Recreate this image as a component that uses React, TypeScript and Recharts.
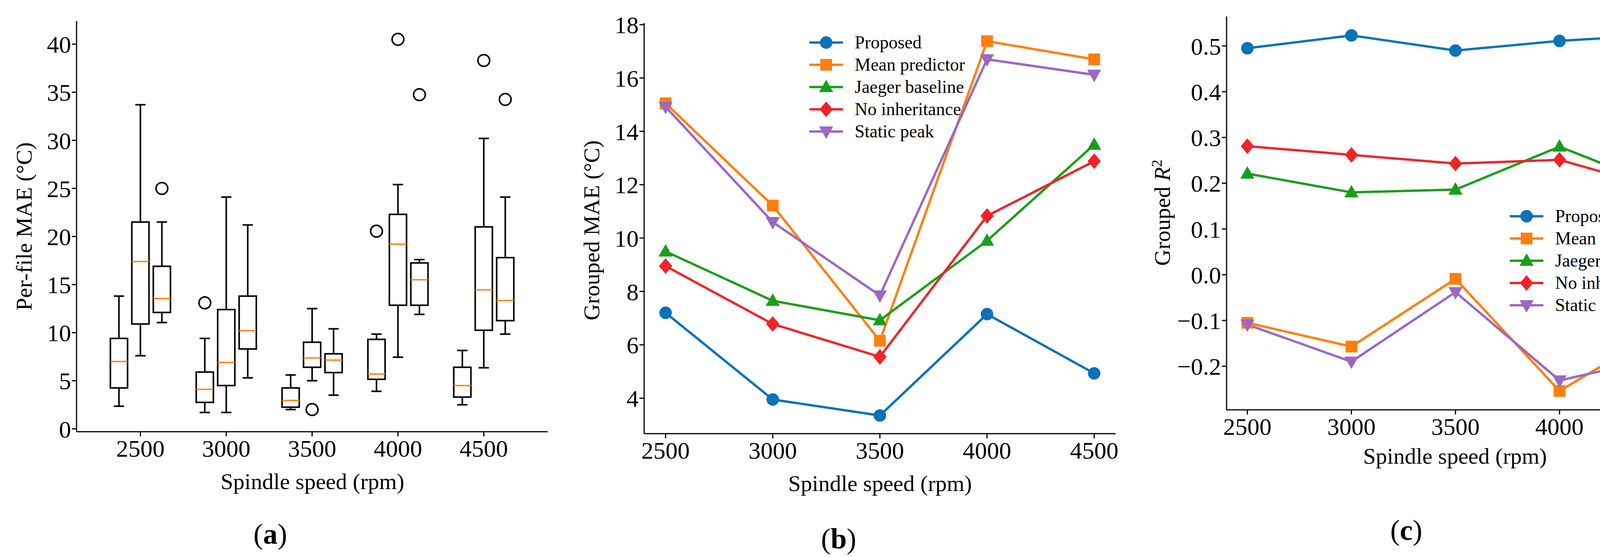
import React from "react";
import {
  ComposedChart,
  LineChart,
  Line,
  Scatter,
  XAxis,
  YAxis,
} from "recharts";

const speeds = [2500, 3000, 3500, 4000, 4500];

// panel (a): three boxes per speed, offsets in rpm
const boxOffsets = [-125, 0, 125];
const boxLow = [2.35, 7.6, 11.05, 1.7, 1.7, 5.3, 2.0, 5.0, 3.5, 3.9, 7.45, 11.9, 2.5, 6.35, 9.85];
const boxQ1 = [4.25, 10.9, 12.1, 2.75, 4.5, 8.3, 2.25, 6.4, 5.85, 5.15, 12.85, 12.85, 3.3, 10.25, 11.25];
const boxMed = [7.0, 17.4, 13.55, 4.1, 6.9, 10.2, 2.95, 7.37, 7.15, 5.7, 19.2, 15.5, 4.5, 14.45, 13.35];
const boxQ3 = [9.4, 21.5, 16.9, 5.9, 12.4, 13.8, 4.25, 9.0, 7.8, 9.3, 22.3, 17.25, 6.4, 21.0, 17.8];
const boxHigh = [13.8, 33.7, 21.5, 9.4, 24.1, 21.2, 5.6, 12.5, 10.4, 9.85, 25.4, 17.6, 8.15, 30.2, 24.1];
const outlierX = [2625, 2875, 3500, 3875, 4000, 4125, 4500, 4625];
const outlierY = [25.0, 13.1, 2.0, 20.55, 40.5, 34.75, 38.3, 34.25];

// panel (b) grouped MAE
const maeProposed = [7.2, 3.95, 3.35, 7.15, 4.93];
const maeMean = [15.05, 11.22, 6.15, 17.38, 16.7];
const maeJaeger = [9.5, 7.65, 6.92, 9.9, 13.5];
const maeNoInh = [8.95, 6.78, 5.55, 10.83, 12.88];
const maeStatic = [14.92, 10.6, 7.85, 16.7, 16.12];

// panel (c) grouped R2
const r2Proposed = [0.495, 0.523, 0.49, 0.511, 0.525];
const r2Mean = [-0.105, -0.157, -0.009, -0.254, -0.119];
const r2Jaeger = [0.221, 0.18, 0.186, 0.28, 0.19];
const r2NoInh = [0.281, 0.262, 0.243, 0.251, 0.187];
const r2Static = [-0.109, -0.19, -0.038, -0.231, -0.18];

const seriesNames = ["Proposed", "Mean predictor", "Jaeger baseline", "No inheritance", "Static peak"];
const seriesColors = ["#0a72b8", "#ff7f0e", "#1a9e1a", "#f02428", "#9b68c4"];
const seriesMarkers = ["circle", "square", "triangle", "diamond", "tridown"];

const FONT = "'Liberation Serif', 'DejaVu Serif', serif";
const tick = { fill: "#000", fontSize: 62, fontFamily: FONT };

const boxData = boxMed.map((m, i) => ({
  x: speeds[Math.floor(i / 3)] + boxOffsets[i % 3],
  low: boxLow[i],
  q1: boxQ1[i],
  med: m,
  q3: boxQ3[i],
  high: boxHigh[i],
}));
const outlierData = outlierX.map((x, i) => ({ x, y: outlierY[i] }));

const mk = (vals: number[][]) =>
  speeds.map((s, i) => ({ x: s, s0: vals[0][i], s1: vals[1][i], s2: vals[2][i], s3: vals[3][i], s4: vals[4][i] }));
const maeData = mk([maeProposed, maeMean, maeJaeger, maeNoInh, maeStatic]);
const r2Data = mk([r2Proposed, r2Mean, r2Jaeger, r2NoInh, r2Static]);

// panel (a) geometry
const A = { w: 1420, h: 1250, top: 54, right: 18, yw: 196, xh: 144, xd: [2128, 4872], yd: [-0.3, 42.4] };
const aPlotH = A.h - A.top - A.xh;
const aPlotW = A.w - A.yw - A.right;
const ky = aPlotH / (A.yd[1] - A.yd[0]);
const kx = aPlotW / (A.xd[1] - A.xd[0]);

function BoxShape(props: any) {
  const { cx, cy, payload } = props;
  if (cx == null || cy == null) return null;
  const py = (v: number) => cy - (v - payload.med) * ky;
  const hw = 50 * kx;
  const cap = hw * 0.6;
  return (
    <g stroke="#000" strokeWidth={4} fill="none">
      <line x1={cx} x2={cx} y1={py(payload.low)} y2={py(payload.q1)} />
      <line x1={cx} x2={cx} y1={py(payload.q3)} y2={py(payload.high)} />
      <line x1={cx - cap} x2={cx + cap} y1={py(payload.low)} y2={py(payload.low)} />
      <line x1={cx - cap} x2={cx + cap} y1={py(payload.high)} y2={py(payload.high)} />
      <rect x={cx - hw} y={py(payload.q3)} width={hw * 2} height={py(payload.q1) - py(payload.q3)} />
      <line x1={cx - hw} x2={cx + hw} y1={cy} y2={cy} stroke="#ff7f0e" strokeWidth={3.5} />
    </g>
  );
}

function Outlier(props: any) {
  const { cx, cy } = props;
  if (cx == null) return null;
  return <circle cx={cx} cy={cy} r={15} fill="none" stroke="#000" strokeWidth={4} />;
}

function Marker({ kind, cx, cy, color }: { kind: string; cx: number; cy: number; color: string }) {
  const r = 16;
  if (kind === "circle") return <circle cx={cx} cy={cy} r={r} fill={color} />;
  if (kind === "square") return <rect x={cx - 15} y={cy - 15} width={30} height={30} fill={color} />;
  if (kind === "triangle")
    return <polygon points={`${cx},${cy - 19} ${cx - 18},${cy + 13} ${cx + 18},${cy + 13}`} fill={color} />;
  if (kind === "tridown")
    return <polygon points={`${cx},${cy + 19} ${cx - 18},${cy - 13} ${cx + 18},${cy - 13}`} fill={color} />;
  return <polygon points={`${cx},${cy - 20} ${cx + 17},${cy} ${cx},${cy + 20} ${cx - 17},${cy}`} fill={color} />;
}

const dotFor = (i: number) => (p: any) =>
  p.cx == null ? <g key={p.index} /> : (
    <Marker key={p.index} kind={seriesMarkers[i]} cx={p.cx} cy={p.cy} color={seriesColors[i]} />
  );

function LegendBox({ left, top }: { left: number; top: number }) {
  return (
    <div style={{ position: "absolute", left, top, fontFamily: FONT, fontSize: 46, whiteSpace: "nowrap" }}>
      {seriesNames.map((n, i) => (
        <div key={n} style={{ display: "flex", alignItems: "center", height: 57 }}>
          <svg width={90} height={50}>
            <line x1={0} x2={86} y1={25} y2={25} stroke={seriesColors[i]} strokeWidth={6} />
            <Marker kind={seriesMarkers[i]} cx={43} cy={25} color={seriesColors[i]} />
          </svg>
          <span style={{ marginLeft: 26 }}>{n}</span>
        </div>
      ))}
    </div>
  );
}

const axisProps = {
  stroke: "#000",
  strokeWidth: 3,
  tickSize: 12,
  tick,
};

function Label({ x, y, rot, children, size = 58 }: any) {
  return (
    <div
      style={{
        position: "absolute",
        left: x,
        top: y,
        transform: `translate(-50%, -50%) rotate(${rot || 0}deg)`,
        fontFamily: FONT,
        fontSize: size,
        whiteSpace: "nowrap",
      }}
    >
      {children}
    </div>
  );
}

function LinePanel({ data, domain, yTicks, fmt, w, yw, right, top, xh }: any) {
  return (
    <LineChart width={w} height={1250} data={data} margin={{ top, right, left: 0, bottom: 0 }}>
      <XAxis dataKey="x" type="number" domain={[2400, 4600]} ticks={speeds} height={xh} {...axisProps} tickMargin={8} />
      <YAxis type="number" domain={domain} ticks={yTicks} width={yw} tickFormatter={fmt} allowDataOverflow {...axisProps} />
      <XAxis xAxisId="top" orientation="top" height={0} tick={false} tickLine={false} stroke="#000" strokeWidth={3} dataKey="x" type="number" domain={[2400, 4600]} />
      <YAxis yAxisId="right" orientation="right" width={0} tick={false} tickLine={false} stroke="#000" strokeWidth={3} domain={domain} type="number" />
      {[0, 1, 2, 3, 4].map((i) => (
        <Line
          key={i}
          dataKey={`s${i}`}
          stroke={seriesColors[i]}
          strokeWidth={6}
          dot={dotFor(i)}
          activeDot={false}
          isAnimationActive={false}
        />
      ))}
    </LineChart>
  );
}

export default function App() {
  return (
    <div style={{ position: "absolute", left: 0, top: 0, width: 4332, height: 1427, background: "#fff", overflow: "hidden" }}>
      <div style={{ position: "absolute", left: 0, top: 0 }}>
        <ComposedChart width={A.w} height={A.h} margin={{ top: A.top, right: A.right, left: 0, bottom: 0 }}>
          <XAxis dataKey="x" type="number" domain={A.xd} ticks={speeds} height={A.xh} {...axisProps} tickMargin={8} />
          <YAxis type="number" domain={A.yd} ticks={[0, 5, 10, 15, 20, 25, 30, 35, 40]} width={A.yw} {...axisProps} />
          <XAxis xAxisId="top" orientation="top" height={0} tick={false} tickLine={false} stroke="#000" strokeWidth={3} dataKey="x" type="number" domain={A.xd} />
          <YAxis yAxisId="right" orientation="right" width={0} tick={false} tickLine={false} stroke="#000" strokeWidth={3} domain={A.yd} type="number" />
          <Scatter data={boxData} dataKey="med" shape={BoxShape} isAnimationActive={false} />
          <Scatter data={outlierData} dataKey="y" shape={Outlier} isAnimationActive={false} />
        </ComposedChart>
      </div>
      <Label x={61} y={580} rot={-90}>Per-file MAE (°C)</Label>
      <Label x={800} y={1233}>Spindle speed (rpm)</Label>
      <Label x={692} y={1368} size={74}>(<b>a</b>)</Label>

      <div style={{ position: "absolute", left: 1450, top: 0 }}>
        <LinePanel data={maeData} domain={[2.67, 18.06]} yTicks={[4, 6, 8, 10, 12, 14, 16, 18]} w={1420} yw={199} right={14} top={59} xh={139} />
      </div>
      <LegendBox left={2072} top={80} />
      <Label x={1514} y={590} rot={-90}>Grouped MAE (°C)</Label>
      <Label x={2253} y={1238}>Spindle speed (rpm)</Label>
      <Label x={2147} y={1380} size={74}>(<b>b</b>)</Label>

      <div style={{ position: "absolute", left: 2900, top: 0 }}>
        <LinePanel
          data={r2Data}
          domain={[-0.2953, 0.5646]}
          yTicks={[-0.2, -0.1, 0, 0.1, 0.2, 0.3, 0.4, 0.5]}
          fmt={(v: number) => (v < 0 ? "\u2212" + Math.abs(v).toFixed(1) : v.toFixed(1))}
          w={1432}
          yw={240}
          right={20}
          top={42}
          xh={200}
        />
      </div>
      <LegendBox left={3865} top={525} />
      <Label x={2974} y={545} rot={-90}>
        Grouped <i>R</i>
        <sup style={{ fontSize: 38 }}>2</sup>
      </Label>
      <Label x={3725} y={1168}>Spindle speed (rpm)</Label>
      <Label x={3600} y={1358} size={74}>(<b>c</b>)</Label>
    </div>
  );
}
